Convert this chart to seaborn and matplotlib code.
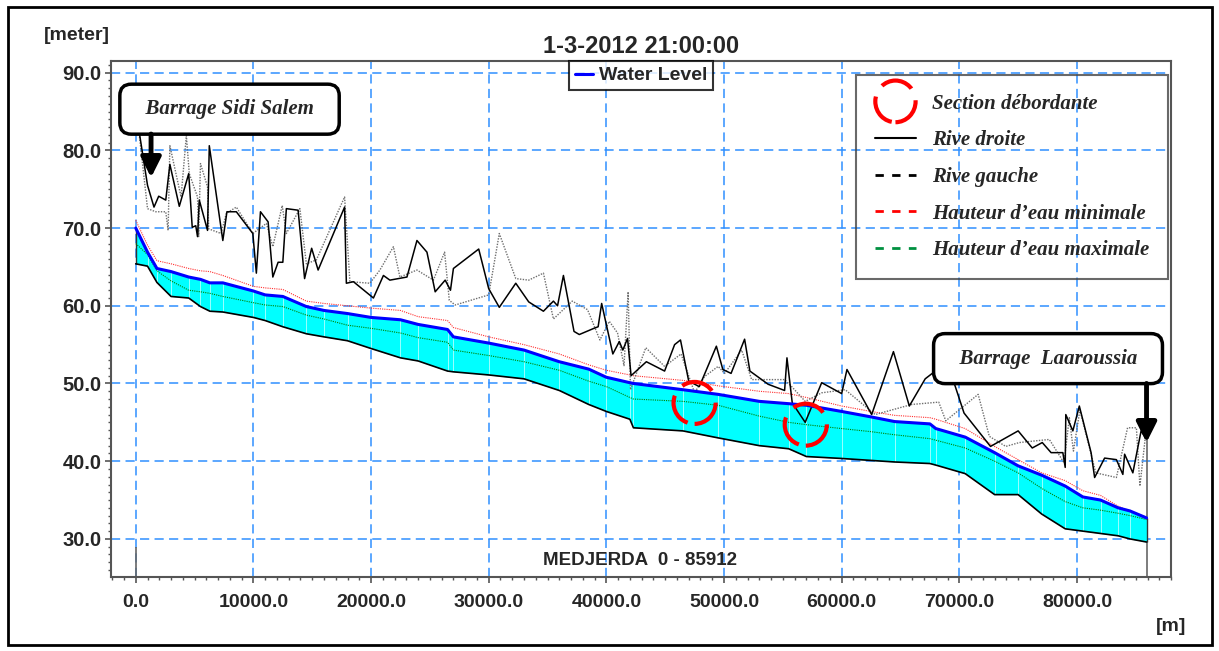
import matplotlib
matplotlib.use("Agg")
import matplotlib.pyplot as plt
import seaborn as sns
from matplotlib.patches import Ellipse, Rectangle
from matplotlib.lines import Line2D
from matplotlib.legend_handler import HandlerPatch
from matplotlib.ticker import MultipleLocator, FormatStrFormatter

# long profile stations [m]
stations = [0, 1000, 1800, 3000, 4500, 5500, 6300, 7400, 10000, 11000,
            12500, 14500, 16000, 18000, 20000, 22500, 24000, 26500, 27000, 30000,
            33000, 36000, 38500, 40000, 42000, 42300, 46500, 49500, 53000, 55500,
            57000, 60000, 62500, 64500, 67500, 68000, 70500, 73000, 75000, 77000,
            79000, 80500, 82000, 83500, 84500, 85912]
bed = [65.4, 65.1, 63.0, 61.2, 61.0, 59.9, 59.3, 59.2, 58.5, 58.1,
       57.3, 56.4, 56.0, 55.5, 54.5, 53.3, 52.9, 51.6, 51.5, 51.1,
       50.6, 49.1, 47.3, 46.4, 45.4, 44.3, 43.9, 43.0, 42.0, 41.6,
       40.6, 40.35, 40.1, 39.9, 39.7, 39.5, 38.4, 35.7, 35.7, 33.2,
       31.3, 31.0, 30.7, 30.4, 30.0, 29.6]
water_level = [70.0, 66.9, 64.8, 64.4, 63.7, 63.4, 62.95, 62.95, 61.9, 61.4,
               61.2, 59.9, 59.4, 59.0, 58.5, 58.2, 57.6, 56.95, 56.0, 55.2,
               54.3, 52.8, 51.85, 50.8, 50.1, 50.0, 49.2, 48.6, 47.7, 47.4,
               47.2, 46.4, 45.7, 45.1, 44.8, 44.2, 43.1, 41.1, 39.4, 38.2,
               36.8, 35.4, 35.0, 34.0, 33.6, 32.7]
h_min = [71.0, 67.8, 65.8, 65.4, 64.8, 64.5, 64.4, 63.9, 62.5, 62.3,
         62.1, 60.6, 60.3, 60.0, 59.7, 59.4, 58.6, 58.1, 57.2, 56.0,
         55.0, 53.8, 52.4, 51.7, 51.1, 51.0, 50.4, 49.7, 49.0, 48.7,
         48.2, 47.1, 46.4, 45.9, 45.6, 45.4, 44.2, 41.9, 40.2, 38.5,
         37.5, 36.2, 35.6, 34.2, 33.6, 32.8]
h_max = [68.0, 66.6, 64.5, 63.2, 62.0, 61.8, 61.6, 61.2, 60.4, 60.1,
         59.9, 58.8, 58.3, 57.5, 57.1, 56.5, 55.9, 55.3, 54.3, 53.6,
         52.8, 51.7, 50.3, 49.6, 48.2, 48.0, 47.7, 47.2, 45.8, 45.0,
         44.7, 44.2, 43.8, 43.4, 42.9, 42.7, 41.7, 40.0, 38.5, 36.5,
         34.8, 34.0, 33.7, 33.3, 33.0, 32.5]

# right bank
droite_x = [0, 300, 1000, 1550, 1950, 2550, 2900, 3700, 4500, 4800,
            5100, 5250, 5400, 6100, 6250, 7400, 7750, 8550, 9950, 10250,
            10600, 11250, 11650, 12100, 12500, 12800, 13800, 14350, 14950, 15500,
            17750, 17900, 18500, 20200, 21050, 21600, 23050, 23900, 24750, 25450,
            26300, 26750, 27000, 29150, 30000, 30900, 32300, 33400, 34650, 35500,
            35850, 36350, 37250, 37700, 38950, 39300, 39600, 40550, 41100, 41400,
            41800, 42100, 43400, 44950, 45800, 46300, 47000, 47900, 49350, 49900,
            50600, 51750, 52200, 53750, 55150, 55350, 55800, 56900, 58300, 60000,
            60450, 62550, 64400, 65750, 67100, 68300, 69550, 70400, 72650, 75000,
            76200, 77050, 77800, 78800, 79000, 79050, 79650, 80200, 81200, 81500,
            82350, 83350, 83900, 84050, 84750, 85450, 85750, 85912]
droite_z = [86.0, 82.3, 75.5, 72.7, 74.1, 73.6, 78.2, 72.8, 77.0, 70.1,
            70.3, 68.9, 73.6, 69.7, 80.6, 68.4, 72.1, 72.1, 69.3, 64.2,
            72.1, 70.8, 63.7, 65.6, 65.6, 72.5, 72.3, 63.5, 67.4, 64.6,
            72.7, 62.9, 63.1, 61.0, 63.9, 63.3, 63.7, 68.4, 66.9, 61.8,
            63.3, 62.0, 64.8, 67.3, 62.2, 59.8, 62.9, 60.5, 59.3, 60.6,
            60.0, 63.9, 56.7, 56.3, 57.1, 57.3, 60.3, 53.8, 55.4, 54.3,
            55.8, 51.0, 52.8, 51.6, 55.0, 55.6, 50.3, 49.6, 54.8, 51.8,
            51.3, 55.7, 51.6, 49.9, 49.1, 53.3, 47.5, 45.0, 50.1, 48.7,
            51.8, 46.0, 54.1, 47.1, 50.6, 52.0, 50.1, 46.2, 41.9, 43.9,
            41.7, 42.4, 41.1, 41.1, 39.2, 46.0, 43.9, 47.1, 41.1, 37.9,
            40.4, 40.2, 38.3, 40.9, 38.5, 43.9, 43.2, 44.0]

# left bank
gauche_x = [0, 300, 1000, 1700, 2550, 2750, 2900, 3850, 4300, 4550,
            5250, 5350, 5500, 6100, 6200, 7250, 7700, 8550, 9950, 11100,
            11650, 12450, 12800, 13950, 14500, 15350, 17750, 18200, 19900, 20750,
            21900, 22450, 23900, 25300, 26250, 26650, 27150, 30000, 30900, 32300,
            33400, 34650, 35500, 37100, 38400, 39450, 40250, 40950, 41500, 41850,
            42050, 43350, 44950, 46350, 47500, 48350, 49500, 50050, 51500, 52350,
            55150, 55750, 56900, 58300, 60300, 62850, 65950, 68250, 68850, 71600,
            72550, 73950, 75100, 77650, 78900, 79350, 79700, 80250, 81600, 83350,
            84300, 85050, 85350, 85912]
gauche_z = [86.0, 82.0, 72.5, 72.1, 72.1, 69.7, 80.6, 74.0, 81.9, 77.0,
            74.0, 68.9, 78.3, 75.3, 69.9, 69.3, 71.9, 72.7, 69.3, 70.6,
            67.6, 72.9, 69.3, 72.5, 65.4, 65.9, 74.0, 63.1, 62.9, 64.6,
            67.6, 63.7, 64.6, 63.3, 66.9, 60.7, 60.1, 61.4, 69.3, 63.5,
            63.3, 64.2, 58.3, 60.6, 59.5, 55.6, 58.0, 56.5, 52.3, 61.8,
            49.2, 54.6, 52.2, 53.8, 48.8, 50.9, 52.2, 51.3, 54.3, 50.5,
            50.5, 49.6, 47.7, 48.8, 49.2, 46.0, 47.3, 47.6, 45.2, 48.6,
            43.2, 41.9, 42.4, 42.8, 39.8, 45.6, 41.3, 46.6, 38.5, 37.9,
            44.3, 44.3, 36.8, 44.5]

# overflowing sections (centre x, centre z)
section_x = [47500, 56950]
section_z = [47.5, 44.7]

FS = 14


class HandlerCircle(HandlerPatch):
    def create_artists(self, legend, orig_handle, xdescent, ydescent,
                       width, height, fontsize, trans):
        c = (0.5 * width - xdescent, 0.5 * height - ydescent)
        p = Ellipse(c, width=29, height=30)
        self.update_prop(p, orig_handle, legend)
        p.set_transform(trans)
        return [p]


sns.set_style("white")
plt.rcParams['font.family'] = ['Liberation Sans', 'DejaVu Sans']

fig = plt.figure(figsize=(12.19, 6.51), dpi=100)
ax = fig.add_axes([0.0911, 0.1137, 0.8696, 0.7926])

ax.set_xlim(-2100, 88000)
ax.set_ylim(25.1, 91.5)

# end verticals
ax.vlines([stations[0], stations[-1]], 25.1, [29.0, 44.0], colors='#666666',
          lw=1.2, zorder=1.5)

# water body
ax.fill_between(stations, bed, water_level, color='#00FFFF', lw=0, zorder=2)
ax.vlines(stations[1:-1], bed[1:-1], water_level[1:-1], colors='white',
          lw=0.6, alpha=0.7, zorder=2.2)
ax.vlines([stations[0], stations[-1]], [bed[0], bed[-1]],
          [water_level[0], water_level[-1]], colors='#333333', lw=1, zorder=2.3)

sns.lineplot(x=stations, y=bed, ax=ax, color='black', lw=1.2, sort=False,
             estimator=None, legend=False, zorder=3)
sns.lineplot(x=stations, y=h_max, ax=ax, color='#008000', lw=0.8,
             linestyle=(0, (1, 1)), sort=False, estimator=None, legend=False, zorder=3)
sns.lineplot(x=stations, y=h_min, ax=ax, color='#FF3030', lw=0.8,
             linestyle=(0, (1, 1)), sort=False, estimator=None, legend=False, zorder=3)
sns.lineplot(x=gauche_x, y=gauche_z, ax=ax, color='#6E6E6E', lw=1.0,
             linestyle=(0, (1, 1)), sort=False, estimator=None, legend=False, zorder=3)
sns.lineplot(x=droite_x, y=droite_z, ax=ax, color='black', lw=1.1,
             sort=False, estimator=None, legend=False, zorder=3.2)
sns.lineplot(x=stations, y=water_level, ax=ax, color='#0000FF', lw=2.2,
             sort=False, estimator=None, legend=False, zorder=3.5)

for sx, sz in zip(section_x, section_z):
    ax.add_patch(Ellipse((sx, sz), width=3580, height=5.4, fill=False,
                         edgecolor='red', lw=3, linestyle=(0, (8, 3)), zorder=5))

# grid & axes
ax.xaxis.set_major_locator(MultipleLocator(10000))
ax.xaxis.set_minor_locator(MultipleLocator(1000))
ax.yaxis.set_major_locator(MultipleLocator(10))
ax.yaxis.set_minor_locator(MultipleLocator(1))
ax.xaxis.set_major_formatter(FormatStrFormatter('%.1f'))
ax.yaxis.set_major_formatter(FormatStrFormatter('%.1f'))
ax.grid(True, which='major', color='#2F8FFF', lw=1.1, linestyle=(0, (6, 3.5)))
ax.set_axisbelow(True)
ax.tick_params(which='major', direction='out', length=4, width=1.2,
               color='#555555', labelsize=FS, pad=3)
ax.tick_params(axis='y', which='major', labelsize=14.5)
ax.tick_params(which='minor', direction='out', length=2.5, width=1,
               color='#555555')
ax.tick_params(axis='x', which='major', pad=8)
ax.tick_params(bottom=True, left=True, which='both')
for lab in ax.get_xticklabels() + ax.get_yticklabels():
    lab.set_fontweight('bold')
for sp in ax.spines.values():
    sp.set_color('#555555')
    sp.set_linewidth(1.5)
ax.set_xlabel('')
ax.set_ylabel('')

ax.set_title('1-3-2012 21:00:00', fontsize=17, fontweight='bold', pad=6)
ax.text(0.499, 0.031, 'MEDJERDA  0 - 85912', transform=ax.transAxes,
        ha='center', va='center', fontsize=13.5, fontweight='bold')
fig.text(76.5 / 1219, 0.945, '[meter]', ha='center', va='center',
         fontsize=FS, fontweight='bold')
fig.text(1171 / 1219, 0.037, '[m]', ha='center', va='center',
         fontsize=FS, fontweight='bold')

# dam annotations
serif = dict(family='Liberation Serif', weight='bold', style='italic', size=15)
box = dict(boxstyle='round,pad=0.72,rounding_size=0.55', fc='white', ec='black', lw=2.5)
ax.text(7970, 85.3, '  Barrage Sidi Salem  ', ha='center', va='center',
        fontdict=serif, bbox=box, zorder=6)
ax.text(77540, 53.2, '  Barrage  Laaroussia  ', ha='center', va='center',
        fontdict=serif, bbox=box, zorder=6)
arrow = dict(arrowstyle='-|>,head_length=0.5,head_width=0.25', lw=3.5,
             color='black', shrinkA=0, shrinkB=0, mutation_scale=24)
ax.annotate('', xy=(1300, 76.5), xytext=(1300, 82.1), arrowprops=arrow, zorder=6)
ax.annotate('', xy=(stations[-1], 42.4), xytext=(stations[-1], 50.0),
            arrowprops=arrow, zorder=6)

# legends
wl = Line2D([], [], color='#0000FF', lw=2.2)
leg1 = ax.legend([wl], ['Water Level'], loc='upper center', bbox_to_anchor=(0.5, 1.0),
                 borderaxespad=0, frameon=True, fancybox=False, handlelength=0.95,
                 handletextpad=0.3, borderpad=0.3,
                 prop=dict(family='Liberation Sans', weight='bold', size=FS))
leg1.get_frame().set_edgecolor('black')
leg1.get_frame().set_linewidth(1.5)
leg1.set_zorder(7)
ax.add_artist(leg1)

circ = Ellipse((0, 0), 1, 1, fill=False, edgecolor='red', lw=3, linestyle=(0, (8, 3)))
handles = [circ,
           Line2D([], [], color='black', lw=1.5),
           Line2D([], [], color='black', lw=2, linestyle=(0, (3, 3))),
           Line2D([], [], color='red', lw=2, linestyle=(0, (3, 3))),
           Line2D([], [], color='#009040', lw=2, linestyle=(0, (3, 3)))]
labels = ['Section débordante', 'Rive droite', 'Rive gauche',
          'Hauteur d\u2019eau minimale', 'Hauteur d\u2019eau maximale']
leg2 = ax.legend(handles, labels, loc='upper right', bbox_to_anchor=(0.997, 0.973),
                 borderaxespad=0, frameon=True, fancybox=False, handlelength=2.0,
                 handletextpad=0.75, borderpad=0.9, labelspacing=0.8,
                 prop=serif, handler_map={Ellipse: HandlerCircle()})
leg2.get_frame().set_facecolor('none')
leg2.get_frame().set_edgecolor('#444444')
leg2.get_frame().set_linewidth(1.5)
leg2.set_zorder(7)

fig.add_artist(Rectangle((8 / 1219, 1 - 645 / 651), 1204 / 1219, 638 / 651,
                         transform=fig.transFigure, fill=False, ec='black', lw=2))

fig.savefig('out.png', dpi=100)
